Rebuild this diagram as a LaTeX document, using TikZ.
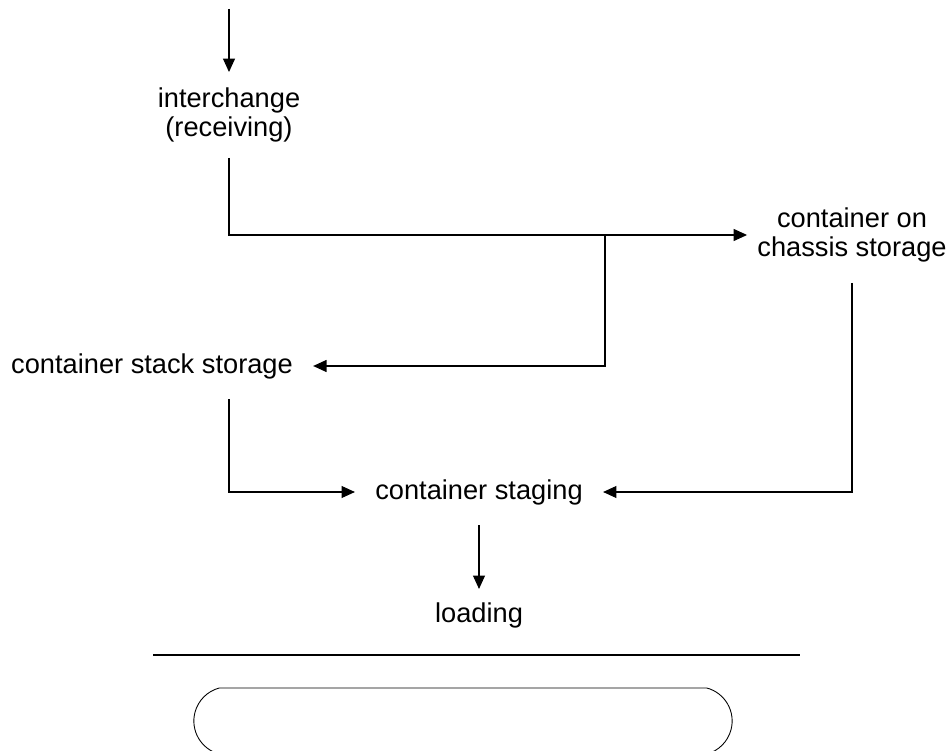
\documentclass[tikz,border=0pt]{standalone}
\usepackage{fontspec}
\setmainfont{Liberation Sans}
\usetikzlibrary{positioning, arrows.meta, shapes.misc}

\begin{document}
\begin{tikzpicture}[
  on grid,
  stage/.style={align=center, inner sep=0.4cm, font=\fontsize{15.5pt}{17pt}\selectfont},
  arr/.style={-{Triangle[length=7.6pt, width=6.8pt]}, line width=0.6pt},
  rule/.style={line width=0.6pt},
  terminal/.style={draw, rounded rectangle, rounded rectangle arc length=150,
                   minimum width=11.0cm, minimum height=1.32cm, line width=0.5pt},
]
\useasboundingbox (0,0) rectangle (19,-15.02);

% Stations
\node[stage, inner sep=0.3cm] (recv) at (4.58,-2.3) {interchange\\(receiving)};
\node[stage, inner xsep=0.2cm, below right=2.4cm and 12.46cm of recv] (chassis) {container on\\chassis storage};
\node[stage, below left=5.02cm and 1.54cm of recv] (stack) {container stack storage};
\node[stage, below right=2.52cm and 6.54cm of stack] (staging) {container staging};
\node[stage, inner sep=0.26cm, below=2.46cm of staging] (loading) {loading};

% Entry and split point
\coordinate[above=2.12cm of recv] (entry);
\coordinate[below right=2.4cm and 7.52cm of recv] (fork);

% Flows
\draw[arr] (entry) -- (recv);
\draw[arr] (recv.south) |- (chassis.west);
\draw[arr] (fork) |- (stack.east);
\draw[arr] (stack.south -| recv.south) |- (staging.west);
\draw[arr] (chassis.south) |- (staging.east);
\draw[arr] (staging) -- (loading);

% Rule and terminator
\coordinate[below left=0.8cm and 6.52cm of loading] (rule-l);
\coordinate[below right=0.8cm and 6.42cm of loading] (rule-r);
\draw[rule] (rule-l) -- (rule-r);
\node[terminal, below left=2.12cm and 0.32cm of loading] (term) {};

\end{tikzpicture}
\end{document}
